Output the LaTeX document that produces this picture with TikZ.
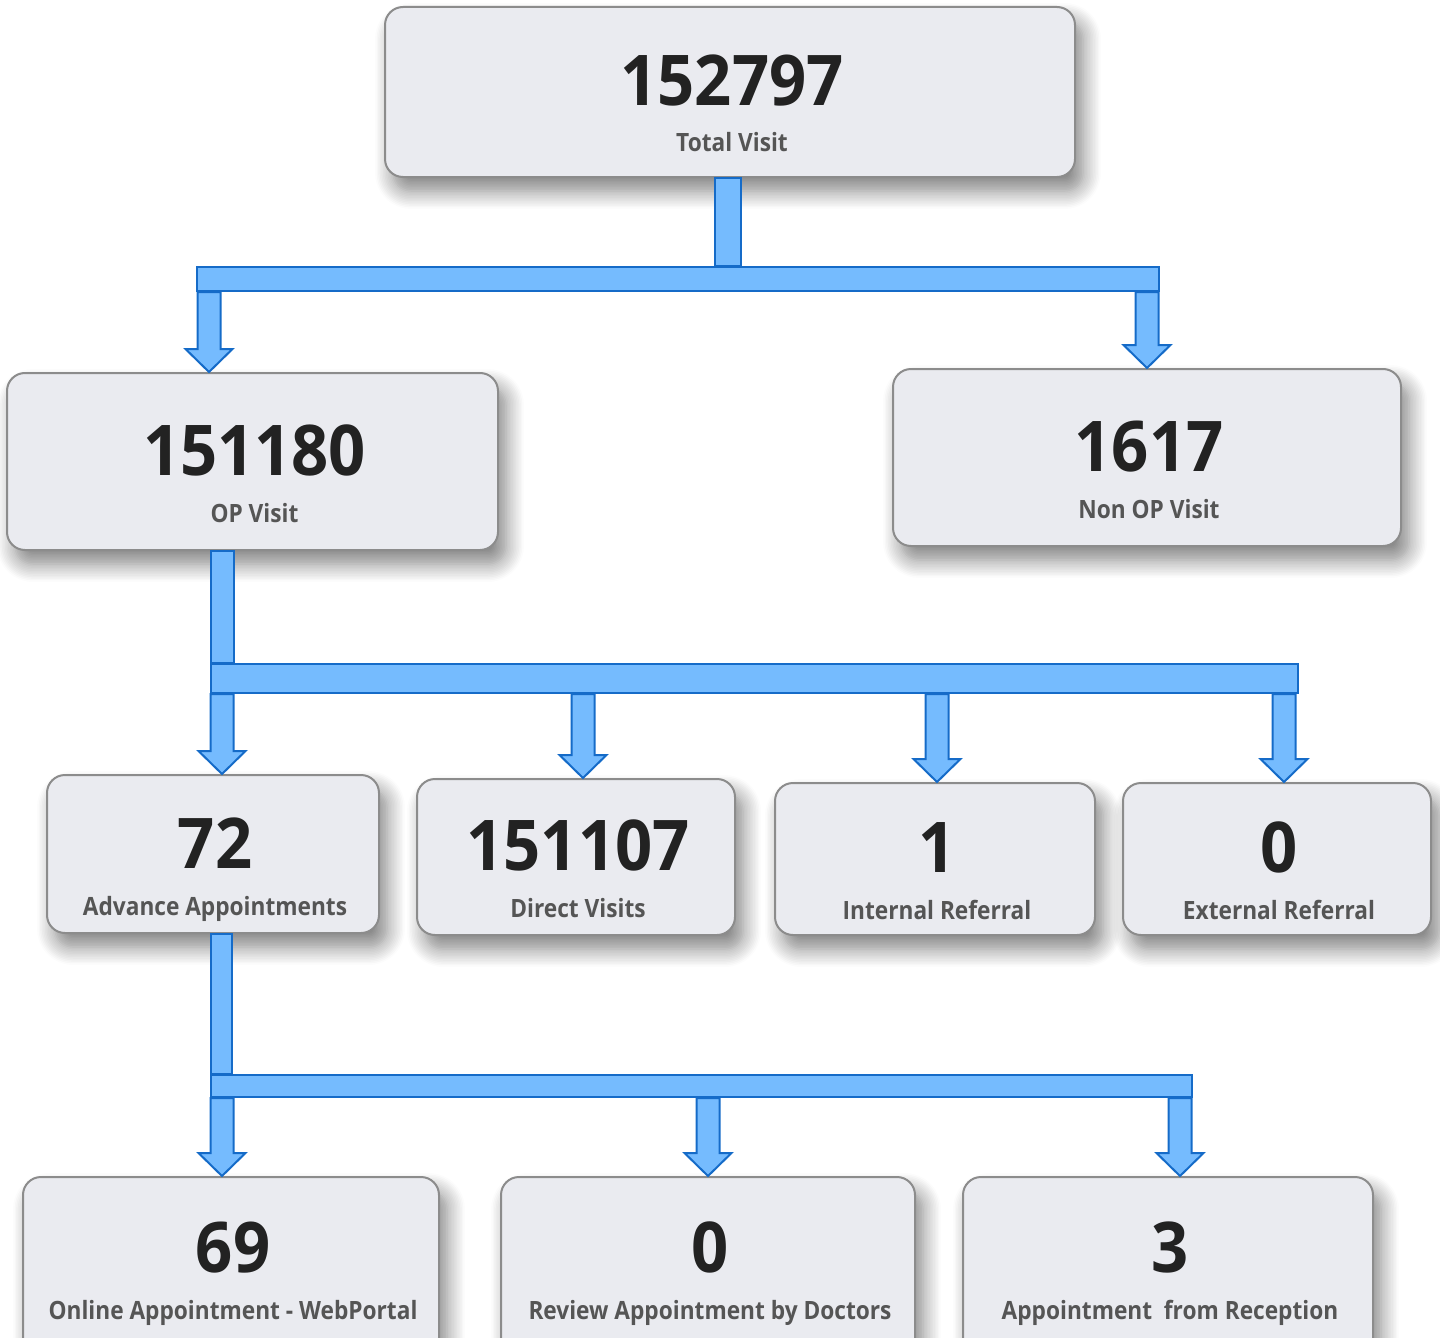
\documentclass[tikz,border=0pt]{standalone}
\usepackage{fontspec}
\setmainfont{Open Sans}
\newfontfamily\numfont{Open Sans}[FakeStretch=0.93]
\newfontfamily\labfont{Open Sans}[FakeStretch=0.9]
\usetikzlibrary{calc,fit,shadows.blur}
\definecolor{boxfill}{HTML}{EAEBF0}
\definecolor{boxborder}{HTML}{8C8C8C}
\definecolor{numcol}{HTML}{222222}
\definecolor{labcol}{HTML}{555555}
\definecolor{arrfill}{HTML}{75BBFE}
\definecolor{arrline}{HTML}{156BC8}
\tikzset{
  kbox/.style={draw=boxborder, fill=boxfill, line width=1pt, rounded corners=9pt, inner sep=0pt,
    blur shadow={shadow xshift=4pt, shadow yshift=-7pt, shadow blur radius=9pt, shadow blur steps=12, shadow opacity=50}},
  numtxt/.style={anchor=base, font=\numfont\bfseries\fontsize{35}{40}\selectfont, text=numcol, inner sep=0pt},
  labtxt/.style={anchor=base, font=\labfont\bfseries\fontsize{12.6}{15}\selectfont, text=labcol, inner sep=0pt},
  barbox/.style={draw=arrline, fill=arrfill, line width=1pt, inner sep=0pt, rectangle},
  conn/.style={draw=arrline, fill=arrfill, line width=1pt, line join=miter}
}
\newcommand\kpi[8]{%
  \node[kbox, fit={(#2,#3) (#4,#5)}] (#1) {};
  \node[numtxt] (#1-n) at ({(#2+#4)/2+2},{#6+25}) {#7};
  \node[labtxt] (#1-l) at ({(#2+#4)/2+2},{#6+72}) {#8};
}
\newcommand\barrow[3]{%
  \draw[conn] ($(#1.south -| #2)+(-11.5,0)$) -- ($(#3.north -| #2)+(-11.5,-23)$)
    -- ($(#3.north -| #2)+(-23.5,-23)$) -- (#3.north -| #2)
    -- ($(#3.north -| #2)+(23.5,-23)$) -- ($(#3.north -| #2)+(11.5,-23)$)
    -- ($(#1.south -| #2)+(11.5,0)$) -- cycle;
}
\newcommand\stem[4]{% source node, x coord, bar, half width
  \draw[conn] ($(#1.south -| #2)+(-#4,0)$) rectangle ($(#3.north -| #2)+(#4,0)$);
}
\begin{document}
\begin{tikzpicture}[x=0.5pt,y=-0.5pt]
\useasboundingbox (0,0) rectangle (1440,1338);
\clip (0,0) rectangle (1440,1338);

\kpi{total}{385}{7}{1075}{177}{80}{152797}{Total Visit}
\kpi{op}{7}{373}{498}{550}{450}{151180}{OP Visit}
\kpi{nonop}{893}{369}{1401}{546}{446}{1617}{Non OP Visit}
\kpi{adv}{47}{775}{379}{933}{843}{72}{Advance Appointments}
\kpi{direct}{417}{779}{735}{935}{845}{151107}{Direct Visits}
\kpi{internal}{775}{783}{1095}{935}{847}{1}{Internal Referral}
\kpi{external}{1123}{783}{1431}{935}{847}{0}{External Referral}
\kpi{online}{23}{1177}{439}{1360}{1247}{69}{Online Appointment - WebPortal}
\kpi{review}{501}{1177}{915}{1360}{1247}{0}{Review Appointment by Doctors}
\kpi{reception}{963}{1177}{1373}{1360}{1247}{3}{Appointment\ \ from Reception}

% level 1
\node[barbox, fit={(197,267) (1159,291)}] (bar1) {};
\coordinate (s1) at (728,0);
\stem{total}{s1}{bar1}{13}
\coordinate (x11) at (209,0);
\coordinate (x12) at (1147,0);
\barrow{bar1}{x11}{op}
\barrow{bar1}{x12}{nonop}

% level 2
\node[barbox, fit={(211,664) (1298,693)}] (bar2) {};
\coordinate (s2) at (222.5,0);
\stem{op}{s2}{bar2}{11.5}
\coordinate (x21) at (222,0);
\coordinate (x22) at (583,0);
\coordinate (x23) at (937,0);
\coordinate (x24) at (1284,0);
\barrow{bar2}{x21}{adv}
\barrow{bar2}{x22}{direct}
\barrow{bar2}{x23}{internal}
\barrow{bar2}{x24}{external}

% level 3
\node[barbox, fit={(211,1075) (1192,1097)}] (bar3) {};
\coordinate (s3) at (221.5,0);
\stem{adv}{s3}{bar3}{10.5}
\coordinate (x31) at (222,0);
\coordinate (x32) at (708,0);
\coordinate (x33) at (1180,0);
\barrow{bar3}{x31}{online}
\barrow{bar3}{x32}{review}
\barrow{bar3}{x33}{reception}
\end{tikzpicture}
\end{document}
